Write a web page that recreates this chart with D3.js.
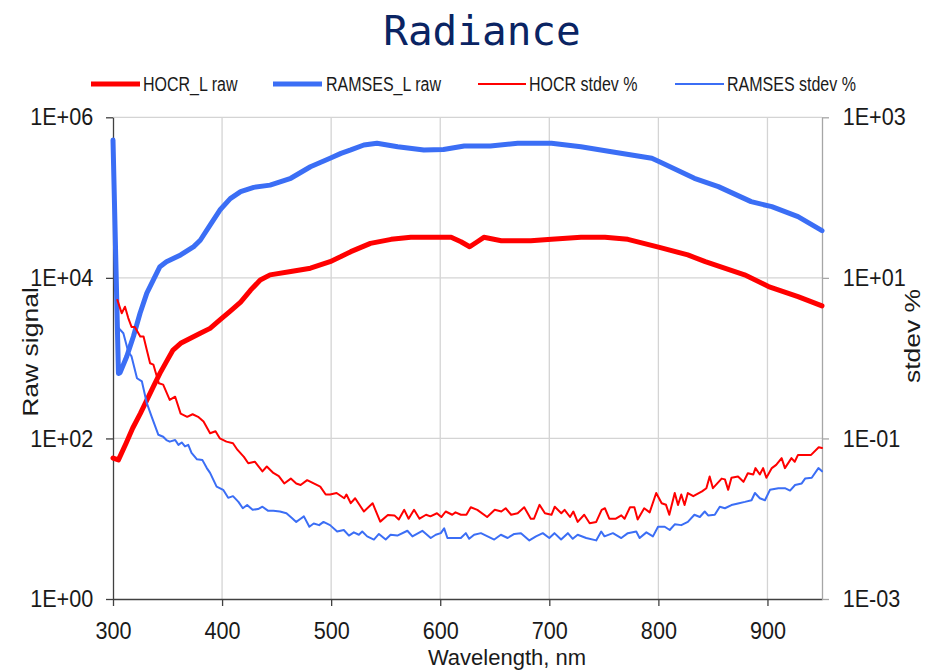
<!DOCTYPE html>
<html>
<head>
<meta charset="utf-8">
<script src="https://cdn.jsdelivr.net/npm/d3@7"></script>
<style>
  body { margin: 0; background: #fff; }
  text { font-family: "Liberation Sans", Arial, sans-serif; fill: #1a1a1a; }
</style>
</head>
<body>
<div id="chart"></div>
<script>
// wavelength (nm), value pairs
const hocrRaw = [[300,57],[305,54],[312,87],[318,134],[325,204],[331,300],[337,442],[343,646],[349,905],[355,1260],
  [362,1530],[371,1770],[380,2040],[389,2350],[398,2990],[407,3800],[417,5000],[426,7000],[435,9400],[444,10900],
  [463,12000],[481,13200],[499,15900],[509,18400],[518,21200],[536,26900],[555,30200],[573,32000],[591,32000],[610,32000],
  [619,28200],[627,24400],[634,28200],[640,32000],[656,29000],[683,29000],[702,30200],[729,32000],[751,32000],[772,30200],
  [801,24000],[827,19300],[843,15900],[879,10900],[901,7800],[928,5840],[950,4470]];

const ramsesRaw = [[300,521000],[305,646],[306.5,660],[312.6,1050],[318.7,1860],[324.8,3630],[331,6460],[337,9420],
  [343,13800],[349,15900],[362,19300],[374,24500],[380,29400],[389,45500],[398,70000],[407.5,97000],[417,118600],
  [429,134000],[444,143000],[463,174000],[481,242000],[499,309000],[509,355000],[518,392000],[530,452000],[542,474000],
  [561,430000],[585,392000],[603,398000],[622,440000],[646,440000],[671,474000],[702,474000],[729,430000],[757,373000],
  [794,309000],[801,280000],[833,174000],[855,137000],[885,89000],[904,77000],[928,57800],[950,38700]];

const hocrStd = [[304,5.31],[308,3.63],[311,4.37],[314,3.16],[317,2.45],[320,2.45],[325,1.86],[328,1.86],[331,1.26],
  [334,0.863],[337,0.832],[342,0.486],[346,0.468],[352,0.302],[357,0.331],[362,0.204],[368,0.186],[373,0.2],[378,0.186],
  [383,0.162],[389,0.116],[394,0.123],[398,0.1],[404,0.0912],[410,0.0871],[414,0.0724],[420,0.0589],[424,0.049],
  [430,0.0513],[437,0.0389],[441,0.0447],[447,0.0372],[452,0.0339],[457,0.0275],[463,0.0316],[468,0.0275],[472,0.0263],
  [478,0.0302],[484,0.0275],[490,0.0251],[495,0.02],[499,0.02],[505,0.0209],[512,0.018],[514,0.02],[518,0.0156],
  [522,0.018],[530,0.0123],[538,0.0156],[545,0.0092],[552,0.0111],[558,0.011],[562,0.00977],[567,0.0129],[571,0.01],
  [576,0.0129],[581,0.01],[587,0.0112],[591,0.0107],[597,0.0117],[601,0.0105],[605,0.0123],[611,0.0112],[614,0.012],
  [619,0.0112],[624,0.0112],[628,0.0139],[634,0.0129],[643,0.0105],[650,0.0129],[656,0.0123],[660,0.0135],[665,0.0112],
  [671,0.0117],[677,0.0139],[683,0.01],[686,0.01],[691,0.0149],[696,0.0117],[702,0.0112],[705,0.0141],[711,0.0117],
  [714,0.0129],[719,0.0105],[722,0.0123],[726,0.00912],[732,0.0112],[737,0.00879],[743,0.00912],[748,0.0129],
  [751,0.0135],[755,0.01],[761,0.01],[766,0.011],[769,0.01],[774,0.0139],[778,0.0139],[781,0.00977],[787,0.0135],
  [792,0.012],[798,0.0209],[803,0.0156],[807,0.0149],[810,0.0112],[815,0.0209],[818,0.0148],[821,0.02],[824,0.0148],
  [827,0.0209],[832,0.0191],[840,0.0219],[844,0.024],[847,0.0335],[850,0.024],[858,0.0316],[861,0.0309],[864,0.0229],
  [867,0.0324],[873,0.0335],[878,0.0288],[882,0.0368],[887,0.0355],[889,0.0427],[893,0.0355],[896,0.0427],[899,0.0324],
  [904,0.0427],[908,0.0468],[913,0.0568],[916,0.0427],[922,0.0568],[925,0.0513],[928,0.0624],[940,0.0624],[947,0.0776],
  [950,0.0759]];

const ramsesStd = [[304,2.47],[309.5,2.04],[314,1.2],[317,1.05],[322,0.562],[326.5,0.513],[331,0.275],[335.5,0.186],
  [341.6,0.111],[346,0.105],[349,0.0955],[352,0.0912],[357,0.0955],[360,0.0832],[363,0.0891],[366,0.0794],[369,0.0832],
  [372,0.0661],[377,0.055],[382,0.0537],[386,0.0427],[389,0.0372],[395,0.0251],[401,0.0229],[405.6,0.0182],[410,0.0191],
  [415,0.0162],[419,0.0135],[423,0.0148],[428,0.0129],[433,0.0132],[437,0.0141],[442,0.0126],[447,0.0126],[453,0.0123],
  [459,0.0117],[464,0.0102],[468,0.00912],[472,0.01],[475,0.0107],[480,0.00794],[484,0.00871],[489,0.00832],[493,0.00912],
  [499,0.00832],[505.5,0.00692],[511.6,0.00724],[516.3,0.00617],[520.8,0.00676],[525.4,0.00631],[528.5,0.00692],
  [533,0.00603],[539.2,0.0055],[543.8,0.00646],[550,0.0055],[554.5,0.00631],[560.7,0.00617],[569.9,0.00708],
  [574.5,0.00603],[583.6,0.00708],[591.3,0.00575],[595.9,0.00631],[600.5,0.00661],[603.6,0.00759],[606.6,0.00575],
  [612.8,0.00575],[618.9,0.00575],[623.5,0.00661],[626.5,0.00562],[631.1,0.00631],[637.3,0.00661],[643.4,0.00603],
  [649.5,0.0055],[655.6,0.00631],[661.8,0.00575],[667.9,0.00646],[674,0.00661],[681.7,0.00537],[687.8,0.00603],
  [694,0.00661],[700,0.00575],[704.7,0.00661],[710.8,0.0055],[717,0.00661],[721.5,0.00562],[726,0.00631],[733.8,0.00575],
  [743,0.00537],[747.6,0.00692],[750.6,0.00603],[758.3,0.00661],[766,0.00575],[772,0.00661],[779.7,0.00692],
  [782.8,0.00575],[789,0.00676],[795,0.00603],[799.7,0.00794],[805.8,0.00794],[810.4,0.00724],[815,0.00851],
  [821,0.00832],[827,0.00912],[833,0.0112],[838,0.0105],[842.5,0.0123],[845.6,0.011],[851.7,0.0112],[856.3,0.0141],
  [861,0.0135],[867,0.0148],[873,0.0155],[879.3,0.0162],[885.4,0.017],[888.5,0.0209],[893,0.018],[897.7,0.017],
  [902.3,0.0229],[910,0.024],[916,0.024],[920.7,0.0224],[925.3,0.0263],[931.4,0.0275],[934.5,0.0316],[940.6,0.0324],
  [946.7,0.0427],[950,0.0389]];

const xTicks = [300, 400, 500, 600, 700, 800, 900];
const yTicks = [1, 1e2, 1e4, 1e6];
const y2Ticks = [1e-3, 1e-1, 1e1, 1e3];

const width = 928, height = 670;
const plotL = 113, plotR = 822, plotT = 117.3, plotB = 599;
const sx = 0.8;   // legend / axis titles are a bit narrow
const tsx = 0.9;  // tick labels

const svg = d3.select("#chart").append("svg")
    .attr("width", width)
    .attr("height", height);

svg.append("rect").attr("width", width).attr("height", height).attr("fill", "#fff");

const x = d3.scaleLinear().domain([300, 950]).range([plotL, plotR]);
const y = d3.scaleLog().domain([1, 1e6]).range([plotB, plotT]);
const y2 = d3.scaleLog().domain([1e-3, 1e3]).range([plotB, plotT]);

const fmtE = d => {
    const e = Math.round(Math.log10(d));
    return "1E" + (e < 0 ? "-" : "+") + String(Math.abs(e)).padStart(2, "0");
};

// title
svg.append("text")
    .attr("x", 482).attr("y", 45)
    .attr("text-anchor", "middle")
    .style("font-family", "'DejaVu Sans Mono', monospace")
    .style("font-size", "41px")
    .style("fill", "#0a2463")
    .text("Radiance");

// grid
const grid = svg.append("g");
grid.selectAll(".gx").data(xTicks.slice(1)).enter().append("line")
    .attr("x1", d => x(d)).attr("x2", d => x(d))
    .attr("y1", plotT).attr("y2", plotB)
    .attr("stroke", "#d4d4d4").attr("stroke-width", 1.3);
grid.selectAll(".gy").data(yTicks.slice(1)).enter().append("line")
    .attr("x1", plotL).attr("x2", plotR)
    .attr("y1", d => y(d)).attr("y2", d => y(d))
    .attr("stroke", "#d4d4d4").attr("stroke-width", 1.3);

// axes
const styleAxis = (g, col) => {
    g.select(".domain").attr("stroke", col).attr("stroke-width", 1.3);
    g.selectAll(".tick line").attr("stroke", col).attr("stroke-width", 1.3);
    g.selectAll("text").style("font-size", "24px").style("fill", "#1a1a1a")
        .attr("font-family", null)
        .attr("transform", "scale(" + tsx + ",1)");
};

const gx = svg.append("g")
    .attr("transform", "translate(0," + plotB + ")")
    .call(d3.axisBottom(x).tickValues(xTicks).tickSize(7).tickSizeOuter(0).tickPadding(16));
styleAxis(gx, "#404040");

const gy = svg.append("g")
    .attr("transform", "translate(" + plotL + ",0)")
    .call(d3.axisLeft(y).tickValues(yTicks).tickFormat(fmtE).tickSize(7).tickSizeOuter(0).tickPadding(15));
styleAxis(gy, "#404040");

const gy2 = svg.append("g")
    .attr("transform", "translate(" + plotR + ",0)")
    .call(d3.axisRight(y2).tickValues(y2Ticks).tickFormat(fmtE).tickSize(7).tickSizeOuter(0).tickPadding(16));
styleAxis(gy2, "#a6a6a6");

// axis titles
svg.append("text")
    .attr("x", 507).attr("y", 665)
    .attr("text-anchor", "middle")
    .style("font-size", "22px")
    .text("Wavelength, nm");

svg.append("text")
    .attr("transform", "translate(38,352) scale(" + sx + ",1) rotate(-90)")
    .attr("text-anchor", "middle")
    .style("font-size", "26.5px")
    .text("Raw signal");

svg.append("text")
    .attr("transform", "translate(920,336) scale(" + sx + ",1) rotate(-90)")
    .attr("text-anchor", "middle")
    .style("font-size", "26.5px")
    .text("stdev %");

// lines
const lineL = d3.line().x(d => x(d[0])).y(d => y(d[1]));
const lineR = d3.line().x(d => x(d[0])).y(d => y2(d[1]));

const series = [
    { name: "HOCR_L raw", data: hocrRaw, line: lineL, color: "#ff0000", w: 5 },
    { name: "RAMSES_L raw", data: ramsesRaw, line: lineL, color: "#3b6ef5", w: 5 },
    { name: "HOCR stdev %", data: hocrStd, line: lineR, color: "#ff0000", w: 2 },
    { name: "RAMSES stdev %", data: ramsesStd, line: lineR, color: "#3b6ef5", w: 2 }
];

series.forEach(s => {
    svg.append("path")
        .datum(s.data)
        .attr("fill", "none")
        .attr("stroke", s.color)
        .attr("stroke-width", s.w)
        .attr("stroke-linejoin", "round")
        .attr("stroke-linecap", "round")
        .attr("d", s.line);
});

// legend
const legX = [[91, 140, 143], [273, 322, 326], [478, 526, 529], [675, 724, 727]];
const legend = svg.append("g");
series.forEach((s, i) => {
    legend.append("line")
        .attr("x1", legX[i][0]).attr("x2", legX[i][1])
        .attr("y1", 84).attr("y2", 84)
        .attr("stroke", s.color).attr("stroke-width", s.w);
    legend.append("text")
        .attr("transform", "translate(" + legX[i][2] + ",91) scale(" + sx + ",1)")
        .style("font-size", "20px")
        .text(s.name);
});
</script>
</body>
</html>
